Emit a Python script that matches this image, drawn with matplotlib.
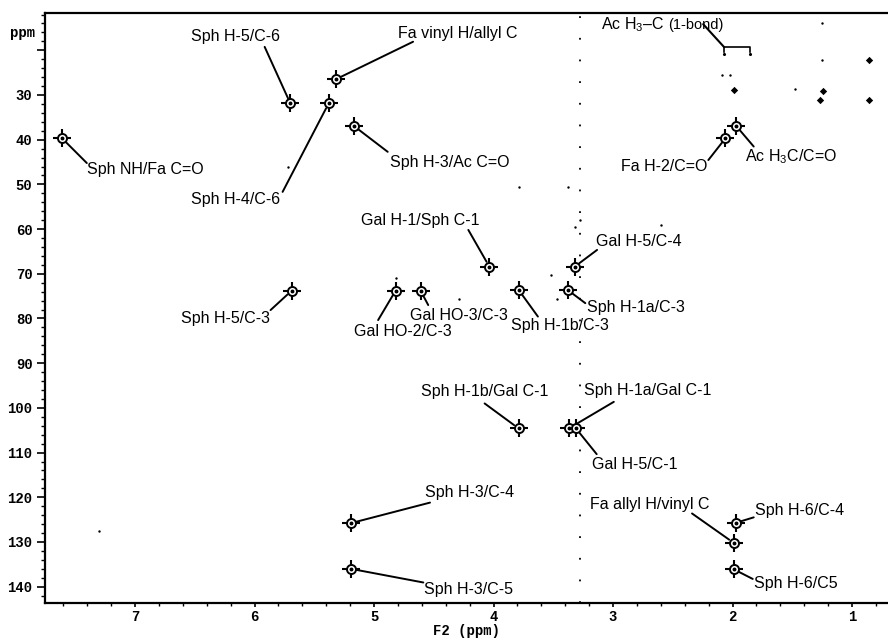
import matplotlib
matplotlib.use("Agg")
import matplotlib.pyplot as plt
from matplotlib.ticker import MultipleLocator

plt.rcParams['font.family'] = ['Liberation Sans', 'DejaVu Sans']
plt.rcParams['mathtext.fontset'] = 'custom'
plt.rcParams['mathtext.rm'] = 'Liberation Sans'
plt.rcParams['mathtext.it'] = 'Liberation Sans:italic'

# labelled HMBC cross peaks: F2 (1H ppm), F1 (13C ppm)
peak_labels = [
    "Sph NH/Fa C=O", "Sph H-5/C-6", "Sph H-4/C-6", "Fa vinyl H/allyl C",
    "Sph H-3/Ac C=O", "Fa H-2/C=O", "Ac H$_3$C/C=O", "Sph H-5/C-3",
    "Gal HO-2/C-3", "Gal HO-3/C-3", "Gal H-1/Sph C-1", "Sph H-1b/C-3",
    "Gal H-5/C-4", "Sph H-1a/C-3", "Sph H-1b/Gal C-1", "Sph H-1a/Gal C-1",
    "Gal H-5/C-1", "Sph H-3/C-4", "Sph H-3/C-5", "Fa allyl H/vinyl C",
    "Sph H-6/C-4", "Sph H-6/C5",
]
peak_h = [7.61, 5.70, 5.38, 5.32, 5.17, 2.06, 1.97, 5.69, 4.82, 4.61, 4.035,
          3.79, 3.32, 3.38, 3.79, 3.37, 3.31, 5.195, 5.195, 1.99, 1.97, 1.99]
peak_c = [39.7, 31.9, 31.9, 26.5, 36.9, 39.7, 36.9, 73.8, 73.8, 73.8, 68.4,
          73.6, 68.4, 73.6, 104.6, 104.6, 104.6, 125.8, 136.0, 130.2, 125.7, 136.1]

# 1-bond Ac H3-C doublet
onebond_h = [2.07, 1.85]
onebond_c = [20.9, 20.9]

# other unassigned responses
strong_h = [1.99, 0.855, 1.24, 0.855, 1.27]
strong_c = [28.9, 22.2, 29.0, 31.1, 31.1]
weak_h = [2.09, 2.02, 1.25, 1.48, 1.25, 3.79, 3.38, 3.32, 3.28, 2.60, 3.52,
          3.47, 4.29, 4.82, 7.30, 5.72]
weak_c = [25.5, 25.5, 22.2, 28.6, 14.0, 50.5, 50.5, 59.5, 58.0, 59.0, 70.3,
          75.6, 75.6, 71.0, 127.5, 46.0]

# t1 noise streak
t1_streak_h = 3.276

# label layout (pixel offsets from peak): text dx, dy, align, leader start dx, dy
label_layout = [
    (25, -30.7, 'left', 24.7, -24.7),
    (-55, 66.6, 'center', -25.7, 56.6),
    (-93.5, -95.7, 'center', -46, -88.4),
    (62.3, 46.3, 'left', 77.3, 37.6),
    (36.7, -36.3, 'left', 34, -26),
    (-18.3, -27.7, 'right', -17, -21.7),
    (9.3, -31, 'left', 17.6, -20.7),
    (-21.7, -27.6, 'right', -21, -19.3),
    (-41.7, -41, 'left', -17.4, -29.3),
    (-10.7, -24.3, 'left', 7.6, -14.3),
    (-128.3, 45.7, 'left', -21, 36.7),
    (-8, -36, 'left', 19.3, -26.7),
    (21, 25, 'left', 22.3, 16.7),
    (19.4, -17.3, 'left', 17.7, -13.3),
    (29.3, 37.3, 'right', -34, 25),
    (15, 37.6, 'left', 45, 26.6),
    (15.7, -36, 'left', 20.7, -25.7),
    (74.3, 30.3, 'left', 79.3, 20.6),
    (73.3, -21, 'left', 72.6, -13.7),
    (-144, 38.7, 'left', -41.7, 29.4),
    (19.3, 12.7, 'left', 17.6, 5.4),
    (20.7, -14, 'left', 19, -9.7),
]

fig = plt.figure(figsize=(8.88, 6.41), dpi=100)
ax = fig.add_axes([0.0507, 0.0593, 0.9493, 0.9209])

ax.set_xlim(7.753, 0.699)
ax.set_ylim(143.65, 11.59)

# noise streak
ax.axvline(t1_streak_h, color='black', lw=1.3, ls=(0, (1, 11)))

# small responses
ax.scatter(strong_h, strong_c, s=14, color='black', marker='D', lw=0, zorder=3)
ax.scatter(weak_h, weak_c, s=3, color='black', lw=0, zorder=3)
ax.scatter(onebond_h, onebond_c, s=5, color='black', lw=0, zorder=3)

# cross peak markers
ax.plot(peak_h, peak_c, ls='none', marker='+', ms=12.5, mew=1.5, color='black', zorder=4)
ax.plot(peak_h, peak_c, ls='none', marker='o', ms=6.5, mew=1.4, mfc='white',
        mec='black', zorder=5)
ax.plot(peak_h, peak_c, ls='none', marker='o', ms=1.8, color='black', zorder=6)

for lab, h, c, (tx, ty, ha, lx, ly) in zip(peak_labels, peak_h, peak_c, label_layout):
    ax.annotate('', xy=(h, c), xytext=(lx, ly), textcoords='offset pixels',
                arrowprops=dict(arrowstyle='-', lw=1.4, color='black',
                                shrinkA=0, shrinkB=4), zorder=3)
    ax.annotate(lab, xy=(h, c), xytext=(tx, ty), textcoords='offset pixels',
                ha=ha, va='center', fontsize=11.5)

# Ac H3-C (1-bond) bracket
bx0, bx1 = onebond_h
by = onebond_c[0]
ax.plot([bx0, bx0, bx1, bx1], [by - 0.5, by - 1.6, by - 1.6, by - 0.5],
        color='black', lw=1.2)
ax.annotate('', xy=(bx0, by - 1.6), xytext=(-21, 23), textcoords='offset pixels',
            arrowprops=dict(arrowstyle='-', lw=1.5, color='black', shrinkA=0, shrinkB=0))
t_ac = ax.annotate('Ac H$_3$\u2013C', xy=(bx0, by), xytext=(-123, 29.3),
                   textcoords='offset pixels', ha='left', va='center', fontsize=11.5)
ax.annotate('(1-bond)', xy=(1, 0.5), xycoords=t_ac, xytext=(4, 0.5),
            textcoords='offset pixels', ha='left', va='center', fontsize=10.5)

# axes styling
mono = dict(family='Liberation Mono', weight='bold', size=10)
ax.set_xticks([7, 6, 5, 4, 3, 2, 1])
ax.set_xticklabels(['7', '6', '5', '4', '3', '2', '1'], fontdict=mono)
yt = list(range(20, 141, 10))
ax.set_yticks(yt)
ax.set_yticklabels([''] + [str(v) for v in yt[1:]], fontdict=mono)
ax.xaxis.set_minor_locator(MultipleLocator(0.2))
ax.yaxis.set_minor_locator(MultipleLocator(2))
ax.tick_params(which='major', direction='out', length=6, width=1.2, pad=3)
ax.tick_params(which='minor', direction='out', length=3, width=1.0)
ax.tick_params(axis='x', which='major', length=3, pad=2)
ax.tick_params(axis='x', which='minor', length=2)
ax.set_xlabel('F2 (ppm)', fontdict=mono, labelpad=0)
ax.text(-0.012, 0.9657, 'ppm', transform=ax.transAxes, ha='right', va='center',
        **mono)

for side in ['left', 'bottom', 'top']:
    ax.spines[side].set_linewidth(1.6)
ax.spines['right'].set_visible(False)

fig.savefig('out.png', dpi=100)
